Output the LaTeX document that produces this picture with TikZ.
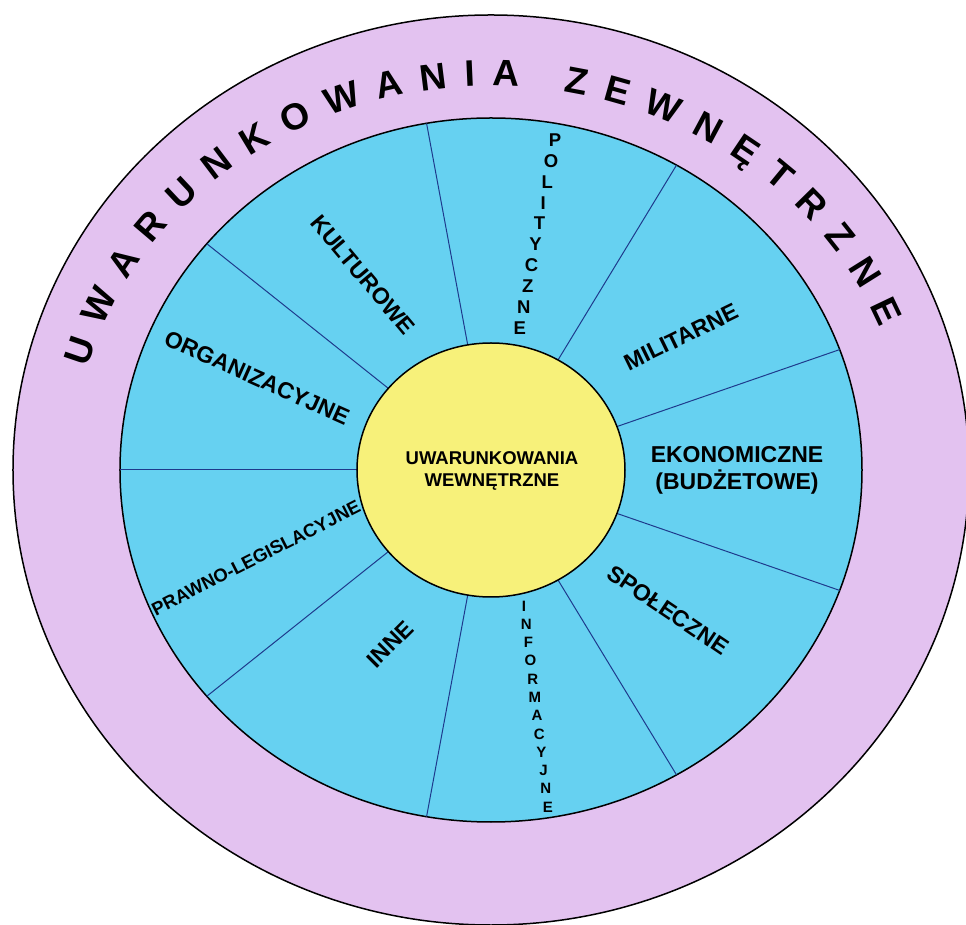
\documentclass[tikz,border=0pt]{standalone}
\usepackage{fontspec}
\setmainfont{Liberation Sans}
\usetikzlibrary{decorations.text}
\definecolor{Lavender}{HTML}{E3C2F0}
\definecolor{SkyBlue}{HTML}{66D1F1}
\definecolor{Lemon}{HTML}{F7F17A}
\definecolor{SpokeBlue}{HTML}{1E3A8C}

\begin{document}
\begin{tikzpicture}[x=1pt, y=1pt,
    ring/.style={line width=1.5pt},
    sector/.style={font=\fontsize{23}{27}\selectfont\bfseries, inner sep=0pt},
    stack/.style={font=\fontsize{18.5}{20}\selectfont\bfseries, inner sep=0pt}]
    \useasboundingbox (-491,-455) rectangle (475,470);

    % outer and middle rings
    \draw[ring, fill=Lavender] (0,0) ellipse [x radius=478pt, y radius=455pt];
    \draw[ring, fill=SkyBlue] (0,0) ellipse [x radius=371pt, y radius=352pt];

    % nine sectors, 40 degrees each
    \foreach \a in {20,60,...,340}
        \draw[SpokeBlue, line width=1pt] (\a:134pt and 127pt) -- (\a:371pt and 352pt);

    % inner circle
    \draw[ring, fill=Lemon] (0,0) ellipse [x radius=134pt, y radius=127pt];
    \node[font=\fontsize{18.5}{22}\selectfont\bfseries, align=center] (wew) at (1,-1) {UWARUNKOWANIA\\WEWNĘTRZNE};

    % text round the outer ring
    \path[decorate, decoration={text along path, text align={fit to path},
        text={|\fontsize{37}{44}\selectfont\bfseries|UWARUNKOWANIA ZEWNĘTRZNE}}]
        (164.5:419pt and 384pt) arc[start angle=164.5, end angle=21.8, x radius=419pt, y radius=384pt];

    % sector labels
    \node[sector, rotate=-50] (kult) at (-128,195) {KULTUROWE};
    \node[sector, rotate=-24] (org) at (-234,92) {ORGANIZACYJNE};
    \node[sector, font=\fontsize{18.5}{20}\selectfont\bfseries, rotate=27] (praw) at (-235,-88) {PRAWNO-LEGISLACYJNE};
    \node[sector, rotate=45] (inne) at (-101,-174) {INNE};
    \node[sector, rotate=26] (mil) at (190,133) {MILITARNE};
    \node[sector, align=center] (eko) at (246,0) {EKONOMICZNE\\(BUDŻETOWE)};
    \node[sector, rotate=-34] (spol) at (177,-140) {SPOŁECZNE};

    % letters stacked one under another
    \foreach \ch [count=\i from 0] in {P,O,L,I,T,Y,C,Z,N,E}
        \node[stack] (pol-\i) at ({64-3.9*\i},{330-20.9*\i}) {\ch};
    \foreach \ch [count=\i from 0] in {I,N,F,O,R,M,A,C,Y,J,N,E}
        \node[stack, font=\fontsize{15}{16}\selectfont\bfseries] (inf-\i) at ({33+2.18*\i},{-136-18.27*\i}) {\ch};
\end{tikzpicture}
\end{document}
